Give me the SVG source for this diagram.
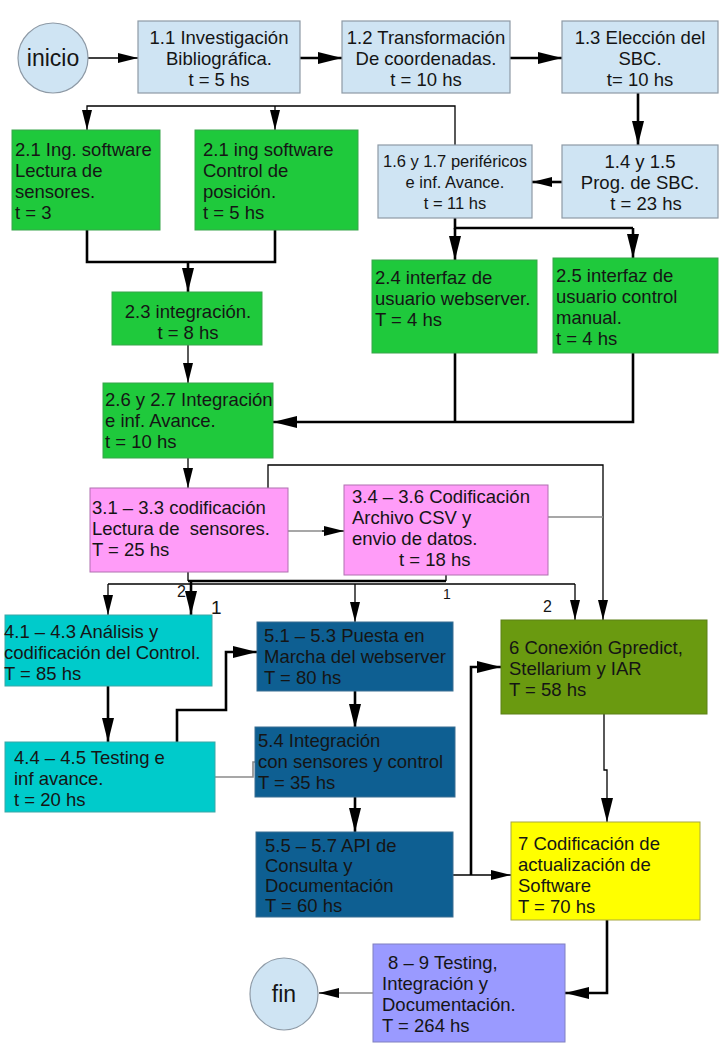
<svg xmlns="http://www.w3.org/2000/svg" width="725" height="1053" viewBox="0 0 725 1053">
<style>
text{font-family:"Liberation Sans",Arial,sans-serif;font-size:18.5px;fill:#151515}
.c{text-anchor:middle}
.s{font-size:16.5px}
.lb{fill:#cfe4f3;stroke:#8e9aa6;stroke-width:1.2}
.gr{fill:#1fc93c;stroke:#39a64a;stroke-width:1}
.pk{fill:#ff9cf8;stroke:#b070b0;stroke-width:1}
.cy{fill:#00cbcb;stroke:#3aa7a7;stroke-width:1}
.db{fill:#0e5f92;stroke:#3b6f92;stroke-width:1}
.ol{fill:#6a9a10;stroke:#5c8016;stroke-width:1}
.ye{fill:#ffff00;stroke:#a8a840;stroke-width:1}
.lv{fill:#9a9aff;stroke:#8080c0;stroke-width:1}
.k{fill:none;stroke:#000}
.t1{stroke-width:1.3}
.t2{stroke-width:2.6}
.g{fill:none;stroke:#8a8a8a;stroke-width:1.6}
.n{font-size:16px}
</style>
<defs>
<marker id="a" markerUnits="userSpaceOnUse" viewBox="0 0 20 10" refX="20" refY="5" markerWidth="20" markerHeight="10" orient="auto"><path d="M0,0L20,5L0,10z" fill="#000"/></marker>
<marker id="b" markerUnits="userSpaceOnUse" viewBox="0 0 24 12" refX="24" refY="6" markerWidth="24" markerHeight="12" orient="auto"><path d="M0,0L24,6L0,12z" fill="#000"/></marker>
</defs>

<g id="connectors">
<path class="k t1" d="M88,58H138" marker-end="url(#a)"/>
<path class="k t2" d="M300,58H342" marker-end="url(#b)"/>
<path class="k t2" d="M510,58H562" marker-end="url(#b)"/>
<path class="k t2" d="M638,93V145" marker-end="url(#b)"/>
<path class="k t2" d="M562,182H532" marker-end="url(#a)"/>
<path class="k t1" d="M455,145V106H87V130" marker-end="url(#a)"/>
<path class="k t1" d="M275,106V130" marker-end="url(#a)"/>
<path class="k t2" d="M87,230V262H275V230"/>
<path class="k t2" d="M188,262V292" marker-end="url(#b)"/>
<path class="k t1" d="M188,345V383" marker-end="url(#a)"/>
<path class="k t2" d="M455,218V228H633"/>
<path class="k t2" d="M455,228V260" marker-end="url(#b)"/>
<path class="k t2" d="M633,228V258" marker-end="url(#b)"/>
<path class="k t2" d="M455,353V422"/>
<path class="k t2" d="M633,353V422H273" marker-end="url(#b)"/>
<path class="k t1" d="M188,458V488" marker-end="url(#a)"/>
<path class="k t1" d="M268,488V465H603V620" marker-end="url(#a)"/>
<path class="g" d="M548,517H603"/>
<path class="g" d="M288,531H326"/>
<path class="k t1" d="M322,531H344" marker-end="url(#a)"/>
<path class="k t1" d="M188,572V581M446,575V581"/>
<path class="k t2" d="M188,581H446"/>
<path class="k t2" d="M191,581V615" marker-end="url(#b)"/>
<path class="k t1" d="M108,584H575"/>
<path class="k t1" d="M108,584V615" marker-end="url(#a)"/>
<path class="k t1" d="M355,584V622" marker-end="url(#a)"/>
<path class="k t1" d="M575,584V620" marker-end="url(#a)"/>
<path class="k t2" d="M108,686V742" marker-end="url(#b)"/>
<path class="k t2" d="M177,742V710H226V652H257" marker-end="url(#b)"/>
<path class="g" d="M215,777H253V762H256"/>
<path class="k t2" d="M355,691V728" marker-end="url(#b)"/>
<path class="k t2" d="M355,797V832" marker-end="url(#b)"/>
<path class="k t1" d="M453,875H511" marker-end="url(#a)"/>
<path class="k t2" d="M471,875V667H501" marker-end="url(#b)"/>
<path class="k t1" d="M604,714V770H607V822" marker-end="url(#b)"/>
<path class="k t2" d="M607,920V993H565" marker-end="url(#b)"/>
<path class="g" d="M373,993H330"/>
<path class="k t1" d="M334,993H319" marker-end="url(#a)"/>
<text class="n" x="177" y="597">2</text>
<text x="211" y="614" style="font-size:19px">1</text>
<text x="443" y="599" style="font-size:14px">1</text>
<text class="n" x="543" y="612">2</text>
</g>

<g id="inicio"><ellipse class="lb" cx="53" cy="58" rx="35" ry="35"/><text class="c" x="53" y="66" style="font-size:23px">inicio</text></g>

<g id="n11"><rect class="lb" x="138" y="21" width="162" height="72"/>
<text class="c" x="219" y="44">1.1 Investigación</text><text class="c" x="219" y="65">Bibliográfica.</text><text class="c" x="219" y="86">t = 5 hs</text></g>

<g id="n12"><rect class="lb" x="342" y="21" width="168" height="72"/>
<text class="c" x="426" y="44">1.2 Transformación</text><text class="c" x="426" y="65">De coordenadas.</text><text class="c" x="426" y="86">t = 10 hs</text></g>

<g id="n13"><rect class="lb" x="562" y="21" width="156" height="72"/>
<text class="c" x="640" y="44">1.3 Elección del</text><text class="c" x="640" y="65">SBC.</text><text class="c" x="640" y="86">t= 10 hs</text></g>

<g id="n14"><rect class="lb" x="562" y="145" width="156" height="73"/>
<text class="c" x="640" y="168">1.4 y 1.5</text><text class="c" x="640" y="189">Prog. de SBC.</text><text class="c" x="646" y="210">t = 23 hs</text></g>

<g id="n16"><rect class="lb" x="378" y="145" width="154" height="73"/>
<text class="c s" x="455" y="167">1.6 y 1.7 periféricos</text><text class="c s" x="455" y="188">e inf. Avance.</text><text class="c s" x="455" y="209">t = 11 hs</text></g>

<g id="n21a"><rect class="gr" x="12" y="130" width="148" height="100"/>
<text x="15" y="156">2.1 Ing. software</text><text x="15" y="177">Lectura de</text><text x="15" y="198">sensores.</text><text x="15" y="219">t = 3</text></g>

<g id="n21b"><rect class="gr" x="195" y="130" width="163" height="100"/>
<text x="203" y="156">2.1 ing software</text><text x="203" y="177">Control de</text><text x="203" y="198">posición.</text><text x="203" y="219">t = 5 hs</text></g>

<g id="n23"><rect class="gr" x="112" y="292" width="150" height="53"/>
<text class="c" x="188" y="318">2.3 integración.</text><text class="c" x="188" y="339">t = 8 hs</text></g>

<g id="n24"><rect class="gr" x="372" y="260" width="165" height="93"/>
<text x="375" y="284">2.4 interfaz de</text><text x="375" y="305">usuario webserver.</text><text x="375" y="326">T = 4 hs</text></g>

<g id="n25"><rect class="gr" x="553" y="258" width="165" height="95"/>
<text x="556" y="282">2.5 interfaz de</text><text x="556" y="303">usuario control</text><text x="556" y="324">manual.</text><text x="556" y="345">t = 4 hs</text></g>

<g id="n26"><rect class="gr" x="103" y="383" width="170" height="75"/>
<text x="105" y="406">2.6 y 2.7 Integración</text><text x="105" y="427">e inf. Avance.</text><text x="105" y="448">t = 10 hs</text></g>

<g id="n31"><rect class="pk" x="90" y="488" width="198" height="84"/>
<text x="92" y="514">3.1 – 3.3 codificación</text><text x="92" y="535" xml:space="preserve">Lectura de  sensores.</text><text x="92" y="556">T = 25 hs</text></g>

<g id="n34"><rect class="pk" x="344" y="485" width="204" height="90"/>
<text x="352" y="503">3.4 – 3.6 Codificación</text><text x="352" y="524">Archivo CSV y</text><text x="352" y="545">envio de datos.</text><text x="399" y="566">t = 18 hs</text></g>

<g id="n41"><rect class="cy" x="5" y="615" width="207" height="71"/>
<text x="4" y="638">4.1 – 4.3 Análisis y</text><text x="4" y="659">codificación del Control.</text><text x="4" y="680">T = 85 hs</text></g>

<g id="n44"><rect class="cy" x="5" y="742" width="210" height="70"/>
<text x="14" y="764">4.4 – 4.5 Testing e</text><text x="14" y="785">inf avance.</text><text x="14" y="806">t = 20 hs</text></g>

<g id="n51"><rect class="db" x="257" y="622" width="196" height="69"/>
<text x="264" y="642">5.1 – 5.3 Puesta en</text><text x="264" y="663">Marcha del webserver</text><text x="264" y="684">T = 80 hs</text></g>

<g id="n54"><rect class="db" x="255" y="727" width="200" height="70"/>
<text x="258" y="747">5.4 Integración</text><text x="258" y="768">con sensores y control</text><text x="258" y="789">T = 35 hs</text></g>

<g id="n55"><rect class="db" x="256" y="832" width="197" height="85"/>
<text x="265" y="852">5.5 – 5.7 API de</text><text x="265" y="872">Consulta y</text><text x="265" y="892">Documentación</text><text x="265" y="912">T = 60 hs</text></g>

<g id="n6"><rect class="ol" x="501" y="620" width="206" height="94"/>
<text x="509" y="654">6 Conexión Gpredict,</text><text x="509" y="675">Stellarium y IAR</text><text x="509" y="696">T = 58 hs</text></g>

<g id="n7"><rect class="ye" x="511" y="822" width="189" height="98"/>
<text x="518" y="850">7 Codificación de</text><text x="518" y="871">actualización de</text><text x="518" y="892">Software</text><text x="518" y="913">T = 70 hs</text></g>

<g id="n89"><rect class="lv" x="373" y="944" width="192" height="98"/>
<text x="388" y="969">8 – 9 Testing,</text><text x="382" y="990">Integración y</text><text x="382" y="1011">Documentación.</text><text x="382" y="1032">T = 264 hs</text></g>

<g id="fin"><ellipse class="lb" cx="284" cy="994" rx="34" ry="36"/><text class="c" x="284" y="1002" style="font-size:23px">fin</text></g>
</svg>
